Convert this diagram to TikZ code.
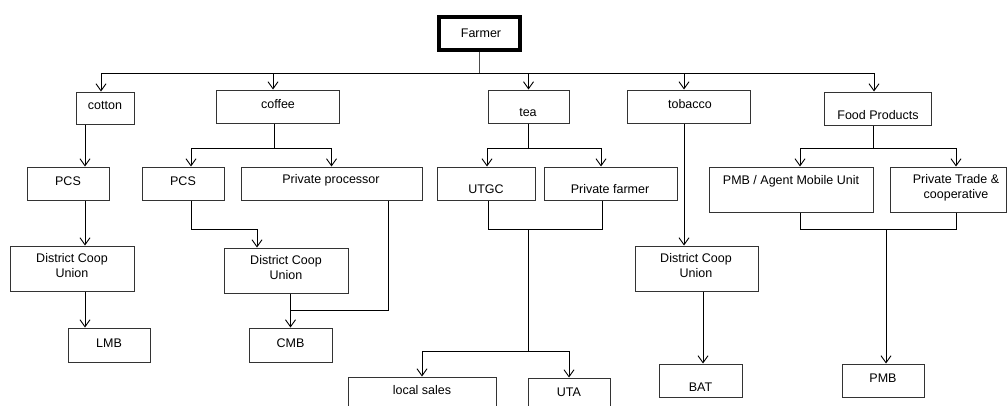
\documentclass[tikz,border=0pt]{standalone}
\usepackage{fontspec}
\setmainfont{Liberation Sans}
\usetikzlibrary{arrows.meta,fit}
\begin{document}
\begin{tikzpicture}[x=1pt,y=-1pt,
  box/.style={draw=black!80, line width=1pt, inner sep=0pt, rectangle},
  txt/.style={inner sep=0pt, font=\fontsize{12.5}{15}\selectfont, align=center, text=black},
  ln/.style={draw=black, line width=1pt},
  arr/.style={ln, -{Straight Barb[length=7pt,width=10pt,line width=0.9pt]}},
]
\useasboundingbox (0,0) rectangle (1007,405);
\clip (0,0) rectangle (1007,405);

% boxes
\node[box, draw=black, line width=4pt, fit={(439,17) (520,50)}] (farmer) {};
\node[box, fit={(76,92) (134,124)}] (cotton) {};
\node[box, fit={(216,90) (339,123)}] (coffee) {};
\node[box, fit={(488,90) (569,123)}] (tea) {};
\node[box, fit={(627,90) (750,123)}] (tobacco) {};
\node[box, fit={(824,92) (931,125)}] (food) {};
\node[box, fit={(27,167) (109,200)}] (pcs1) {};
\node[box, fit={(142,167) (224,200)}] (pcs2) {};
\node[box, fit={(241,167) (422,200)}] (pp) {};
\node[box, fit={(437,167) (535,200)}] (utgc) {};
\node[box, fit={(544,167) (677,200)}] (pf) {};
\node[box, fit={(709,167) (873,212)}] (pmba) {};
\node[box, fit={(890,167) (1006,212)}] (ptc) {};
\node[box, fit={(10,246) (134,291)}] (dcu1) {};
\node[box, fit={(68,328) (150,362)}] (lmb) {};
\node[box, fit={(224,248) (348,293)}] (dcu2) {};
\node[box, fit={(249,328) (332,362)}] (cmb) {};
\node[box, fit={(635,246) (758,291)}] (dcu3) {};
\node[box, fit={(659,364) (742,397)}] (bat) {};
\node[box, fit={(842,364) (924,397)}] (pmb) {};
\node[box, fit={(348,377) (496,420)}] (ls) {};
\node[box, fit={(528,378) (610,420)}] (uta) {};

% texts
\node[txt] (farmer-t) at (481,33) {Farmer};
\node[txt] (cotton-t) at (105,106) {cotton};
\node[txt] (coffee-t) at (278,104) {coffee};
\node[txt] (tea-t) at (528,113) {tea};
\node[txt] (tobacco-t) at (690,104) {tobacco};
\node[txt] (food-t) at (878,115) {Food Products};
\node[txt] (pcs1-t) at (68,181) {PCS};
\node[txt] (pcs2-t) at (183,181) {PCS};
\node[txt] (pp-t) at (331,180) {Private processor};
\node[txt] (utgc-t) at (486,189) {UTGC};
\node[txt] (pf-t) at (610,189) {Private farmer};
\node[txt] (pmba-t) at (791,181) {PMB / Agent Mobile Unit};
\node[txt] (ptc-t) at (956,188) {Private Trade \&\\cooperative};
\node[txt] (dcu1-t) at (72,266) {District Coop\\Union};
\node[txt] (lmb-t) at (109,343) {LMB};
\node[txt] (dcu2-t) at (286,268) {District Coop\\Union};
\node[txt] (cmb-t) at (290.5,343) {CMB};
\node[txt] (dcu3-t) at (696,266) {District Coop\\Union};
\node[txt] (bat-t) at (700.5,387) {BAT};
\node[txt] (pmb-t) at (883,378) {PMB};
\node[txt] (ls-t) at (422,390) {local sales};
\node[txt] (uta-t) at (569,392) {UTA};

% junctions
\coordinate (bus) at (479.5,73);
\coordinate (cofj) at (274,148);
\coordinate (teaj) at (528.5,148);
\coordinate (foodj) at (873,148);
\coordinate (cmbj) at (290.5,310);
\coordinate (teab) at (528,229);
\coordinate (teac) at (528,351);
\coordinate (fb) at (886,229);

% level 1
\draw[ln, draw=black!70] (farmer.south) -- (bus);
\draw[arr] (bus) -| ([xshift=-4pt]cotton.north);
\draw[arr] (bus) -| ([xshift=-4.5pt]coffee.north);
\draw[arr] (bus) -| (tea.north);
\draw[arr] (bus) -| ([xshift=-4.5pt]tobacco.north);
\draw[arr] (bus) -| ([xshift=-3.5pt]food.north);

% level 2
\draw[arr] ([xshift=-20pt]cotton.south) -- ([xshift=-20pt]cotton.south |- pcs1.north);
\draw[ln] ([xshift=-3.5pt]coffee.south) -- (cofj);
\draw[arr] (cofj) -| ([xshift=8pt]pcs2.north);
\draw[arr] (cofj) -| (pp.north);
\draw[ln] (tea.south) -- (teaj);
\draw[arr] (teaj) -| ([xshift=1pt]utgc.north);
\draw[arr] (teaj) -| ([xshift=-9.5pt]pf.north);
\draw[arr] ([xshift=-4.5pt]tobacco.south) -- ([xshift=-4.5pt]tobacco.south |- dcu3.north);
\draw[ln] ([xshift=-4.5pt]food.south) -- (foodj);
\draw[arr] (foodj) -| ([xshift=9pt]pmba.north);
\draw[arr] (foodj) -| ([xshift=8pt]ptc.north);

% level 3
\draw[arr] ([xshift=17pt]pcs1.south) -- ([xshift=17pt]pcs1.south |- dcu1.north);
\draw[arr] ([xshift=13pt]dcu1.south) -- ([xshift=13pt]dcu1.south |- lmb.north);
\draw[arr] ([xshift=8pt]pcs2.south) -- ++(0,29) -| ([xshift=-29pt]dcu2.north);
\draw[ln] ([xshift=56.5pt]pp.south) |- (cmbj);
\draw[arr] (dcu2.south -| cmb.north) -- (cmb.north);
\draw[ln] ([xshift=2pt]utgc.south) -- ++(0,29) -| ([xshift=-8.5pt]pf.south);
\draw[ln] (teab) -- (teac);
\draw[arr] (teac) -| (ls.north);
\draw[arr] (teac) -| (uta.north);
\draw[arr] ([xshift=6.5pt]dcu3.south) -- ([xshift=6.5pt]dcu3.south |- bat.north);
\draw[ln] ([xshift=9pt]pmba.south) -- ++(0,17) -| ([xshift=8pt]ptc.south);
\draw[arr] (fb) -- (fb |- pmb.north);
\end{tikzpicture}
\end{document}
